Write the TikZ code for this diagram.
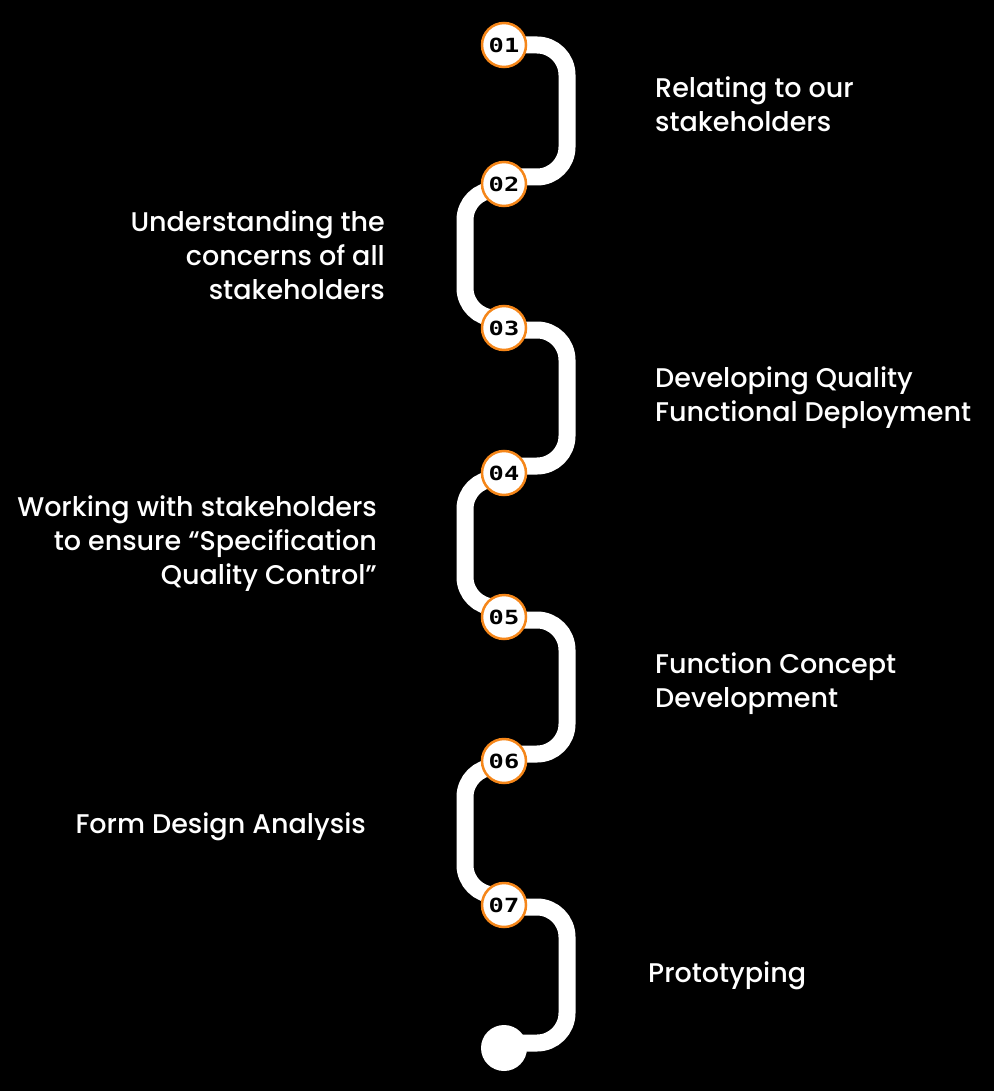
\documentclass[tikz,border=0pt]{standalone}
\usepackage{fontspec}
\usetikzlibrary{calc}
\setmainfont{Poppins}[UprightFont=* Medium]
\newfontfamily\numfont[FakeStretch=1.3]{DejaVu Sans Mono}
\definecolor{ringorange}{RGB}{245,134,25}
\begin{document}
\begin{tikzpicture}[x=1pt,y=-1pt,
  track/.style={white,line width=17pt,rounded corners=30pt},
  marker/.style={circle,fill=white,draw=ringorange,line width=2.5pt,
    minimum size=44pt,inner sep=0pt,text=black,
    font=\numfont\bfseries\fontsize{19.5}{19.5}\selectfont},
  label/.style={text=white,inner sep=0pt,font=\fontsize{27}{34}\selectfont},
  lleft/.style={label,anchor=base west},
  lright/.style={label,anchor=base east}]
\fill[black] (0,0) rectangle (994,1091);
\useasboundingbox (0,0) rectangle (994,1091);

% step markers along the winding track
\coordinate (m1) at (504,45);
\coordinate (m2) at (504,184);
\coordinate (m3) at (504,328);
\coordinate (m4) at (504,473);
\coordinate (m5) at (504,617);
\coordinate (m6) at (504,761);
\coordinate (m7) at (504,905);
\coordinate (m8) at (504,1048);

% the track: right loops reach x=567, left loops x=465
\draw[track] (m1) -- ++(63,0) |- ($(m2)+(0,-7)$);
\draw[track] ($(m2)+(0,6)$) -- ++(-39,0) |- ($(m3)+(0,-10)$);
\draw[track] ($(m3)+(0,2)$) -- ++(63,0) |- ($(m4)+(0,-7)$);
\draw[track] ($(m4)+(0,6)$) -- ++(-39,0) |- ($(m5)+(0,-10)$);
\draw[track] ($(m5)+(0,3)$) -- ++(63,0) |- ($(m6)+(0,-7)$);
\draw[track] ($(m6)+(0,6)$) -- ++(-39,0) |- ($(m7)+(0,-10)$);
\draw[track] ($(m7)+(0,2)$) -- ++(63,0) |- ($(m8)+(0,-5)$);

\node[marker] (n1) at (m1) {01};
\node[marker] (n2) at (m2) {02};
\node[marker] (n3) at (m3) {03};
\node[marker] (n4) at (m4) {04};
\node[marker] (n5) at (m5) {05};
\node[marker] (n6) at (m6) {06};
\node[marker] (n7) at (m7) {07};
\node[circle,fill=white,minimum size=46pt,inner sep=0pt] (enddot) at (m8) {};

% step descriptions
\node[lleft] (t1a) at (655,97.5) {Relating to our};
\node[lleft] (t1b) at (655,132) {stakeholders};

\node[lright] (t2a) at (385,231.5) {Understanding the};
\node[lright] (t2b) at (385,265.5) {concerns of all};
\node[lright] (t2c) at (385,299.5) {stakeholders};

\node[lleft] (t3a) at (655,387) {Developing Quality};
\node[lleft] (t3b) at (655,421.5) {Functional Deployment};

\node[lright] (t4a) at (377,516.5) {Working with stakeholders};
\node[lright] (t4b) at (377,550.5) {to ensure “Specification};
\node[lright] (t4c) at (377,584.5) {Quality Control”};

\node[lleft] (t5a) at (655,673) {Function Concept};
\node[lleft] (t5b) at (655,707.5) {Development};

\node[lright] (t6a) at (366,833.5) {Form Design Analysis};

\node[lleft] (t7a) at (648,982) {Prototyping};
\end{tikzpicture}
\end{document}
